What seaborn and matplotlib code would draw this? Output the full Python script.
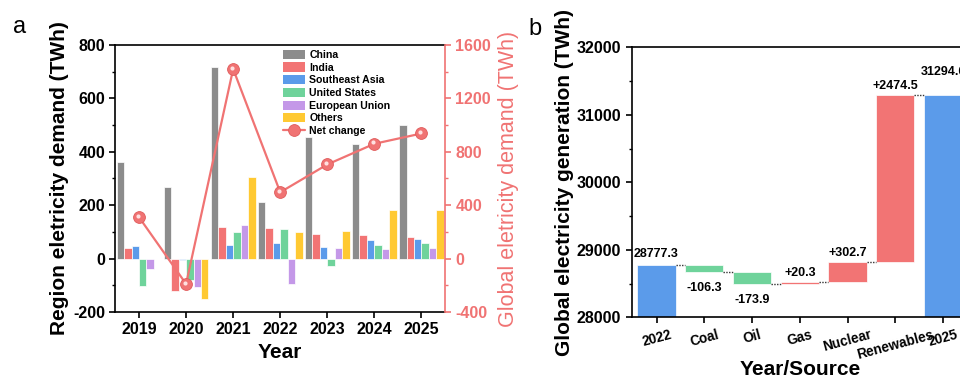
import numpy as np
import pandas as pd
import matplotlib
matplotlib.use("Agg")
import matplotlib.pyplot as plt
import matplotlib.transforms as mtransforms
from matplotlib.patches import Patch
from matplotlib.lines import Line2D
from matplotlib.ticker import MultipleLocator
import seaborn as sns

# ---------------- data ----------------
years = [2019, 2020, 2021, 2022, 2023, 2024, 2025]
regions = ["China", "India", "Southeast Asia", "United States", "European Union", "Others"]
china = [361, 269, 716, 211, 454, 431, 502]
india = [39, -121, 119, 114, 92, 89, 81]
southeast_asia = [46, -6, 51, 60, 42, 69, 75]
united_states = [-104, -79, 101, 110, -27, 50, 57]
european_union = [-40, -106, 126, -96, 40, 36, 40]
others = [-3, -151, 307, 99, 102, 182, 181]
net_change = [310, -190, 1420, 497, 705, 860, 937]

wf_labels = ["2022", "Coal", "Oil", "Gas", "Nuclear", "Renewables", "2025"]
wf_start = 28777.3
wf_changes = [-106.3, -173.9, 20.3, 302.7, 2474.5]
wf_end = 31294.6

# ---------------- style ----------------
sns.set_theme(style="ticks")
plt.rcParams["font.family"] = ["Liberation Sans", "DejaVu Sans"]
plt.rcParams["axes.linewidth"] = 1.2
plt.rcParams["axes.unicode_minus"] = False
plt.rcParams["text.color"] = "black"
plt.rcParams["axes.labelcolor"] = "black"
plt.rcParams["xtick.color"] = "black"
plt.rcParams["ytick.color"] = "black"
plt.rcParams["axes.edgecolor"] = "black"

region_colors = ["#8c8c8c", "#f27474", "#5b9bea", "#6fd39b", "#c498e8", "#ffc932"]
salmon = "#f07373"
blue = "#5b9bea"
green = "#6fd39b"
red = "#f27474"

fig = plt.figure(figsize=(9.6, 3.78), dpi=100)

# ================= panel a =================
ax = fig.add_axes([0.1203, 0.1746, 0.3432, 0.7064])
series = [china, india, southeast_asia, united_states, european_union, others]
df = pd.DataFrame({
    "Year": np.tile(years, len(regions)),
    "Region": np.repeat(regions, len(years)),
    "Value": np.concatenate([np.asarray(s, float) for s in series]),
})
sns.barplot(data=df, x="Year", y="Value", hue="Region", hue_order=regions,
            palette=region_colors, native_scale=True, width=0.95, gap=0,
            edgecolor="white", linewidth=0.5, errorbar=None, legend=False,
            saturation=1, ax=ax)
ax.set_xlim(2018.5, 2025.5)
ax.set_ylim(-200, 800)
ax.yaxis.set_major_locator(MultipleLocator(200))
ax.yaxis.set_minor_locator(MultipleLocator(100))
ax.set_xticks(years)
ax.set_xticklabels([str(y) for y in years])
ax.tick_params(axis="both", which="major", direction="out", length=4.5, width=1.2,
               labelsize=11.5, pad=3, colors="black")
ax.tick_params(axis="y", which="minor", direction="out", length=2.5, width=1.0, colors="black")
for lab in ax.get_xticklabels() + ax.get_yticklabels():
    lab.set_fontweight("bold")
ax.set_xlabel("Year", fontsize=15, fontweight="bold", labelpad=4, color="black")
ax.set_ylabel("Region eletricity demand (TWh)", fontsize=15, fontweight="bold",
              labelpad=3, color="black")
for s in ["top", "left", "bottom"]:
    ax.spines[s].set_visible(True)
    ax.spines[s].set_color("black")
ax.spines["right"].set_visible(False)

ax2 = ax.twinx()
sns.lineplot(x=years, y=net_change, ax=ax2, color=salmon, linewidth=1.6,
             marker="o", markersize=8.5, markerfacecolor=salmon,
             markeredgecolor="#e05a5a", markeredgewidth=0.6)
hl = mtransforms.offset_copy(ax2.transData, fig=fig, x=-1.4, y=1.4, units="dots")
ax2.plot(years, net_change, linestyle="none", marker="o", markersize=3,
         color="#ffe0e0", markeredgewidth=0, transform=hl)
ax2.set_ylim(-400, 1600)
ax2.yaxis.set_major_locator(MultipleLocator(400))
ax2.yaxis.set_minor_locator(MultipleLocator(200))
ax2.tick_params(axis="y", which="major", direction="out", length=4.5, width=1.2,
                labelsize=11.5, pad=3, colors=salmon)
ax2.tick_params(axis="y", which="minor", direction="out", length=2.5, width=1.0, colors=salmon)
for lab in ax2.get_yticklabels():
    lab.set_fontweight("bold")
ax2.set_ylabel("Global eletricity demand (TWh)", fontsize=15.5, color=salmon, labelpad=5)
ax2.spines["right"].set_visible(True)
ax2.spines["right"].set_color(salmon)
ax2.spines["left"].set_visible(False)
ax2.spines["top"].set_visible(False)
ax2.spines["bottom"].set_visible(False)

handles = [Patch(facecolor=c, edgecolor="none") for c in region_colors]
handles.append(Line2D([], [], color=salmon, linewidth=1.6, marker="o", markersize=8.5,
                      markerfacecolor=salmon, markeredgecolor="#e05a5a", markeredgewidth=0.6))
ax2.legend(handles, regions + ["Net change"], loc="upper left",
           bbox_to_anchor=(0.495, 1.0), frameon=False,
           prop={"weight": "bold", "size": 7.6}, handlelength=2.1, handleheight=0.95,
           labelspacing=0.24, handletextpad=0.35, borderaxespad=0.15, borderpad=0.3)

fig.text(0.0132, 0.912, "a", fontsize=17, va="baseline", ha="left")

# ================= panel b =================
ax3 = fig.add_axes([0.658, 0.1606, 0.3503, 0.7143])
levels = [wf_start]
for c in wf_changes:
    levels.append(levels[-1] + c)
bar_w = 0.8
# totals
ax3.bar([0, len(wf_labels) - 1], [wf_start, wf_end], width=bar_w, color=blue,
        edgecolor="white", linewidth=0.5)
# changes
for i, c in enumerate(wf_changes):
    lo = min(levels[i], levels[i + 1])
    ax3.bar(i + 1, abs(c), bottom=lo, width=bar_w, color=(green if c < 0 else red),
            edgecolor="white", linewidth=0.5)
# connectors
conn_levels = levels + [wf_end]
for i in range(len(wf_labels) - 1):
    ax3.plot([i + bar_w / 2, i + 1 - bar_w / 2], [conn_levels[i], conn_levels[i]],
             linestyle=(0, (1, 1)), color="#333333", linewidth=1.0)
# labels
ax3.annotate(f"{wf_start:.1f}", xy=(0, wf_start), xytext=(0, 7.5), textcoords="offset points",
             ha="center", va="center", fontsize=9, fontweight="bold")
for i, c in enumerate(wf_changes):
    if c < 0:
        ax3.annotate(f"{c:.1f}", xy=(i + 1, levels[i + 1]), xytext=(0, -11.5),
                     textcoords="offset points", ha="center", va="center",
                     fontsize=9, fontweight="bold")
    else:
        ax3.annotate(f"+{c:.1f}", xy=(i + 1, levels[i + 1]), xytext=(0, 6.5),
                     textcoords="offset points", ha="center", va="center",
                     fontsize=9, fontweight="bold")
ax3.annotate(f"{wf_end:.1f}", xy=(len(wf_labels) - 1, wf_end), xytext=(0, 16.5),
             textcoords="offset points", ha="center", va="center",
             fontsize=9, fontweight="bold")

ax3.set_xlim(-0.52, 6.52)
ax3.set_ylim(28000, 32000)
ax3.yaxis.set_major_locator(MultipleLocator(1000))
ax3.yaxis.set_minor_locator(MultipleLocator(500))
ax3.set_xticks(range(len(wf_labels)))
ax3.set_xticklabels(wf_labels, rotation=15, ha="center")
ax3.tick_params(axis="both", which="major", direction="out", length=4.5, width=1.2,
                pad=3, colors="black")
ax3.tick_params(axis="y", which="major", labelsize=11.5)
ax3.tick_params(axis="x", which="major", labelsize=9.8)
ax3.tick_params(axis="y", which="minor", direction="out", length=2.5, width=1.0, colors="black")
for lab in ax3.get_xticklabels() + ax3.get_yticklabels():
    lab.set_fontweight("bold")
ax3.set_xlabel("Year/Source", fontsize=15, fontweight="bold", labelpad=-1, color="black")
ax3.set_ylabel("Global electricity generation (TWh)", fontsize=15, fontweight="bold",
               labelpad=2, color="black")
for s in ["top", "left", "bottom", "right"]:
    ax3.spines[s].set_visible(True)
    ax3.spines[s].set_color("black")

fig.text(0.55, 0.907, "b", fontsize=17, va="baseline", ha="left")

fig.savefig("out.png", dpi=100)
